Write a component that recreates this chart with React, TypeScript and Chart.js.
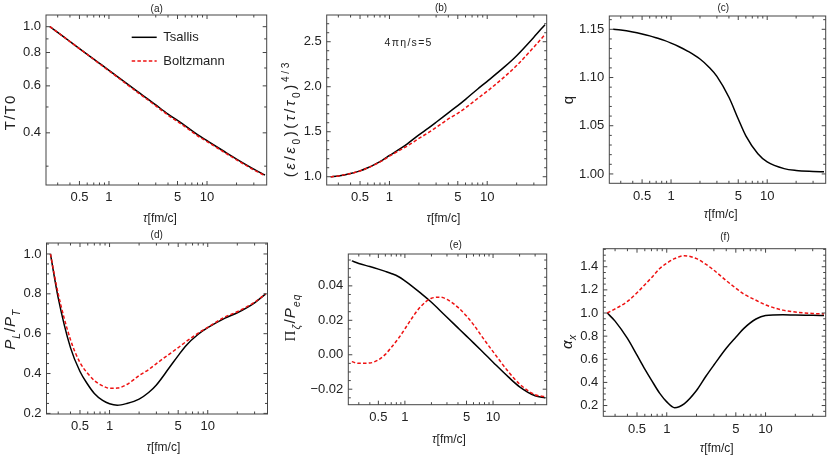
import { useEffect, useRef } from 'react'
import { Chart, registerables } from 'chart.js'
import type { Plugin } from 'chart.js'

Chart.register(...registerables)

const FONT = '"Liberation Sans", Arial, sans-serif'
const SERIF = '"Liberation Serif", "DejaVu Serif", serif'
const RED = '#ee1111'
const INK = '#222'
const FRAME = '#444'

// proper time grid, fm/c
const TAU = [0.25, 0.3, 0.4, 0.5, 0.6, 0.7, 0.85, 1, 1.2, 1.5, 2, 2.5, 3, 4, 5, 6, 8, 10, 15, 20, 30, 39]

// (a) T/T0
const T_TSALLIS = [1.0, 0.952, 0.88, 0.828, 0.788, 0.756, 0.717, 0.686, 0.653, 0.614, 0.568, 0.535, 0.509, 0.4705, 0.445, 0.425, 0.394, 0.374, 0.3405, 0.319, 0.2925, 0.278]
const T_BOLTZ = [1.0, 0.952, 0.879, 0.827, 0.787, 0.754, 0.714, 0.683, 0.65, 0.61, 0.564, 0.531, 0.505, 0.466, 0.441, 0.421, 0.39, 0.371, 0.338, 0.317, 0.2905, 0.2765]

// (b) (e/e0)(tau/tau0)^(4/3)
const E_TSALLIS = [1.0, 1.009, 1.036, 1.065, 1.1, 1.135, 1.185, 1.236, 1.29, 1.36, 1.465, 1.54, 1.605, 1.71, 1.79, 1.86, 1.975, 2.06, 2.22, 2.345, 2.55, 2.69]
const E_BOLTZ = [1.0, 1.009, 1.036, 1.064, 1.098, 1.132, 1.18, 1.228, 1.278, 1.338, 1.425, 1.49, 1.547, 1.642, 1.705, 1.765, 1.87, 1.95, 2.11, 2.235, 2.44, 2.58]

// (c) q
const Q_TSALLIS = [1.15, 1.1493, 1.1473, 1.1452, 1.1432, 1.1412, 1.1385, 1.1357, 1.1322, 1.1272, 1.1192, 1.1105, 1.1012, 1.0795, 1.057, 1.0395, 1.021, 1.0125, 1.0055, 1.0036, 1.0026, 1.0022]

// (d) P_L/P_T
const P_TSALLIS = [1.0, 0.78, 0.53, 0.41, 0.345, 0.3, 0.265, 0.248, 0.241, 0.25, 0.272, 0.305, 0.343, 0.425, 0.49, 0.54, 0.597, 0.63, 0.678, 0.705, 0.755, 0.8]
const P_BOLTZ = [1.0, 0.8, 0.57, 0.455, 0.4, 0.365, 0.338, 0.326, 0.327, 0.345, 0.39, 0.42, 0.45, 0.495, 0.53, 0.56, 0.603, 0.632, 0.684, 0.71, 0.758, 0.8]

// (e) Pi_zeta/P_eq
const PI_TSALLIS = [0.0545, 0.053, 0.0512, 0.0497, 0.0484, 0.0472, 0.0453, 0.0429, 0.0399, 0.0359, 0.0305, 0.0257, 0.0218, 0.0156, 0.0108, 0.0069, 0.0006, -0.0043, -0.013, -0.0186, -0.0238, -0.0249]
const PI_BOLTZ = [-0.004, -0.005, -0.0048, -0.003, 0.0002, 0.0042, 0.0097, 0.015, 0.0212, 0.0278, 0.0328, 0.0334, 0.0322, 0.0275, 0.0225, 0.0175, 0.0085, 0.0018, -0.01, -0.017, -0.0232, -0.0244]

// (f) alpha_x
const A_TSALLIS = [1.0, 0.93, 0.78, 0.635, 0.515, 0.42, 0.305, 0.232, 0.182, 0.215, 0.33, 0.455, 0.55, 0.695, 0.79, 0.865, 0.948, 0.978, 0.985, 0.982, 0.98, 0.978]
const A_BOLTZ = [1.0, 1.035, 1.1, 1.175, 1.245, 1.305, 1.385, 1.43, 1.47, 1.495, 1.47, 1.42, 1.37, 1.28, 1.215, 1.165, 1.11, 1.07, 1.025, 1.008, 0.996, 0.992]

const X_MAJOR = [0.5, 1, 5, 10]
const X_MINOR = [0.3, 0.4, 0.6, 0.7, 0.8, 0.9, 2, 3, 4, 6, 7, 8, 9, 20, 30]

const A_Y_MAJOR = [0.4, 0.6, 0.8, 1.0]
const A_Y_MINOR = [0.3, 0.5, 0.7, 0.9]
const B_Y_MAJOR = [1.0, 1.5, 2.0, 2.5]
const B_Y_MINOR = [1.1, 1.2, 1.3, 1.4, 1.6, 1.7, 1.8, 1.9, 2.1, 2.2, 2.3, 2.4, 2.6, 2.7]
const C_Y_MAJOR = [1.0, 1.05, 1.1, 1.15]
const C_Y_MINOR = [1.01, 1.02, 1.03, 1.04, 1.06, 1.07, 1.08, 1.09, 1.11, 1.12, 1.13, 1.14, 1.16]
const D_Y_MAJOR = [0.2, 0.4, 0.6, 0.8, 1.0]
const D_Y_MINOR = [0.25, 0.3, 0.35, 0.45, 0.5, 0.55, 0.65, 0.7, 0.75, 0.85, 0.9, 0.95, 1.05]
const E_Y_MAJOR = [-0.02, 0, 0.02, 0.04]
const E_Y_MINOR = [-0.025, -0.015, -0.01, -0.005, 0.005, 0.01, 0.015, 0.025, 0.03, 0.035, 0.045, 0.05, 0.055]
const F_Y_MAJOR = [0.2, 0.4, 0.6, 0.8, 1.0, 1.2, 1.4]
const F_Y_MINOR = [0.15, 0.25, 0.3, 0.35, 0.45, 0.5, 0.55, 0.65, 0.7, 0.75, 0.85, 0.9, 0.95, 1.05, 1.1, 1.15, 1.25, 1.3, 1.35, 1.45, 1.5, 1.55]

const X_MIN = 0.228
const X_MAX = 40.6

type Seg = { t: string; i?: boolean; s?: 'sub' | 'sup'; serif?: boolean }

type Panel = {
  name: string
  cell: { x: number; y: number; w: number; h: number }
  area: { l: number; t: number; r: number; b: number }
  log?: boolean
  yMin: number
  yMax: number
  yMajor: number[]
  yMinor: number[]
  digits: number
  tsallis: number[]
  boltzmann?: number[]
  yTitle: Seg[]
  yTitleAt: [number, number]
  ySpacing: number
  xTitleAt: [number, number]
  nameAt: [number, number]
  legend?: boolean
  note?: [string, number, number]
}

const TAU_TITLE: Seg[] = [{ t: 'τ', i: true }, { t: '[fm/c]' }]

const PANELS: Panel[] = [
  {
    name: '(a)', cell: { x: 0, y: 0, w: 278, h: 229 }, area: { l: 46, t: 15, r: 266.7, b: 185 },
    log: true, yMin: 0.255, yMax: 1.106, yMajor: A_Y_MAJOR, yMinor: A_Y_MINOR, digits: 1,
    tsallis: T_TSALLIS, boltzmann: T_BOLTZ,
    yTitle: [{ t: 'T/T0' }], yTitleAt: [10, 113], ySpacing: 1.2,
    xTitleAt: [160, 218], nameAt: [156.7, 9], legend: true,
  },
  {
    name: '(b)', cell: { x: 278, y: 0, w: 278, h: 229 }, area: { l: 326.7, t: 15, r: 546.7, b: 185 },
    yMin: 0.908, yMax: 2.797, yMajor: B_Y_MAJOR, yMinor: B_Y_MINOR, digits: 1,
    tsallis: E_TSALLIS, boltzmann: E_BOLTZ,
    yTitle: [
      { t: '(' }, { t: 'ε', i: true }, { t: '/' }, { t: 'ε', i: true }, { t: '0', s: 'sub' }, { t: ')(' },
      { t: 'τ', i: true }, { t: '/' }, { t: 'τ', i: true }, { t: '0', s: 'sub' }, { t: ')' }, { t: '4/3', s: 'sup' },
    ],
    yTitleAt: [290, 120], ySpacing: 2.6,
    xTitleAt: [443.3, 218], nameAt: [441, 8], note: ['4πη/s=5', 408, 42.7],
  },
  {
    name: '(c)', cell: { x: 556, y: 0, w: 274, h: 229 }, area: { l: 609.3, t: 16, r: 825.7, b: 183.3 },
    yMin: 0.9903, yMax: 1.1638, yMajor: C_Y_MAJOR, yMinor: C_Y_MINOR, digits: 2,
    tsallis: Q_TSALLIS,
    yTitle: [{ t: 'q' }], yTitleAt: [567.7, 100], ySpacing: 0,
    xTitleAt: [720.7, 213.3], nameAt: [723.3, 8],
  },
  {
    name: '(d)', cell: { x: 0, y: 229, w: 278, h: 229 }, area: { l: 46.5, t: 243, r: 267.5, b: 414 },
    yMin: 0.197, yMax: 1.055, yMajor: D_Y_MAJOR, yMinor: D_Y_MINOR, digits: 1,
    tsallis: P_TSALLIS, boltzmann: P_BOLTZ,
    yTitle: [{ t: 'P', i: true }, { t: 'L', i: true, s: 'sub' }, { t: '/' }, { t: 'P', i: true }, { t: 'T', i: true, s: 'sub' }],
    yTitleAt: [10, 329.7], ySpacing: 1,
    xTitleAt: [163.3, 446.3], nameAt: [156.7, 235],
  },
  {
    name: '(e)', cell: { x: 278, y: 229, w: 278, h: 229 }, area: { l: 348.3, t: 254, r: 546.7, b: 404.7 },
    yMin: -0.029, yMax: 0.0585, yMajor: E_Y_MAJOR, yMinor: E_Y_MINOR, digits: 2,
    tsallis: PI_TSALLIS, boltzmann: PI_BOLTZ,
    yTitle: [{ t: 'Π', serif: true }, { t: 'ζ', i: true, s: 'sub' }, { t: '/' }, { t: 'P', i: true }, { t: 'eq', i: true, s: 'sub' }],
    yTitleAt: [290, 318], ySpacing: 1.2,
    xTitleAt: [449, 438.3], nameAt: [455.7, 245.3],
  },
  {
    name: '(f)', cell: { x: 556, y: 229, w: 274, h: 229 }, area: { l: 603.3, t: 248.7, r: 825.7, b: 416.3 },
    yMin: 0.107, yMax: 1.556, yMajor: F_Y_MAJOR, yMinor: F_Y_MINOR, digits: 1,
    tsallis: A_TSALLIS, boltzmann: A_BOLTZ,
    yTitle: [{ t: 'α', i: true }, { t: 'x', i: true, s: 'sub' }],
    yTitleAt: [566.7, 342], ySpacing: 0.5,
    xTitleAt: [716.7, 448], nameAt: [725, 237.3],
  },
]

function segFont(s: Seg, size: number) {
  const sz = s.s ? size * 0.68 : size
  return `${s.i ? 'italic ' : ''}${sz}px ${s.serif ? SERIF : FONT}`
}

// draws a small formula centred on (cx, cy), optionally turned upright
function drawRich(ctx: CanvasRenderingContext2D, segs: Seg[], size: number, cx: number, cy: number, turn: boolean, spacing = 0) {
  const chars = segs.flatMap(s => Array.from(s.t).map(c => ({ ...s, t: c })))
  const widths = chars.map(s => {
    ctx.font = segFont(s, size)
    return ctx.measureText(s.t).width
  })
  const total = widths.reduce((a, b) => a + b, 0) + spacing * (chars.length - 1)
  ctx.save()
  ctx.translate(cx, cy)
  if (turn) ctx.rotate(-Math.PI / 2)
  ctx.fillStyle = INK
  ctx.textAlign = 'left'
  ctx.textBaseline = 'alphabetic'
  let x = -total / 2
  chars.forEach((s, i) => {
    ctx.font = segFont(s, size)
    const dy = s.s === 'sub' ? size * 0.28 : s.s === 'sup' ? -size * 0.42 : 0
    ctx.fillText(s.t, x, size * 0.36 + dy)
    x += widths[i] + spacing
  })
  ctx.restore()
}

function decor(p: Panel): Plugin<'line'> {
  return {
    id: 'decor',
    afterDraw(chart) {
      const { ctx, chartArea: a } = chart
      const xs = chart.scales.x
      const ys = chart.scales.y
      ctx.save()
      ctx.strokeStyle = FRAME
      ctx.lineWidth = 1
      ctx.strokeRect(a.left, a.top, a.right - a.left, a.bottom - a.top)
      ctx.beginPath()
      const xt: [number, number][] = [...X_MAJOR.map(v => [v, 4] as [number, number]), ...X_MINOR.map(v => [v, 2.5] as [number, number])]
      for (const [v, len] of xt) {
        const px = xs.getPixelForValue(v)
        ctx.moveTo(px, a.bottom); ctx.lineTo(px, a.bottom - len)
        ctx.moveTo(px, a.top); ctx.lineTo(px, a.top + len)
      }
      const yt: [number, number][] = [...p.yMajor.map(v => [v, 4] as [number, number]), ...p.yMinor.map(v => [v, 2.5] as [number, number])]
      for (const [v, len] of yt) {
        if (v < p.yMin || v > p.yMax) continue
        const py = ys.getPixelForValue(v)
        ctx.moveTo(a.left, py); ctx.lineTo(a.left + len, py)
        ctx.moveTo(a.right, py); ctx.lineTo(a.right - len, py)
      }
      ctx.stroke()

      ctx.translate(-p.cell.x, -p.cell.y)
      ctx.fillStyle = INK
      ctx.font = `10px ${FONT}`
      ctx.textAlign = 'center'
      ctx.textBaseline = 'middle'
      ctx.fillText(p.name, p.nameAt[0], p.nameAt[1])

      drawRich(ctx, p.yTitle, 15, p.yTitleAt[0], p.yTitleAt[1], true, p.ySpacing)
      drawRich(ctx, TAU_TITLE, 12, p.xTitleAt[0], p.xTitleAt[1], false)

      if (p.note) {
        drawRich(ctx, [{ t: p.note[0] }], 10.5, p.note[1], p.note[2], false, 1.3)
      }

      if (p.legend) {
        const rows = [
          { label: 'Tsallis', color: '#000', dash: [] as number[], y: 37.3 },
          { label: 'Boltzmann', color: RED, dash: [3.5, 2.2], y: 61 },
        ]
        for (const r of rows) {
          ctx.beginPath()
          ctx.strokeStyle = r.color
          ctx.lineWidth = 1.5
          ctx.setLineDash(r.dash)
          ctx.moveTo(131.7, r.y)
          ctx.lineTo(156.7, r.y)
          ctx.stroke()
          ctx.setLineDash([])
          ctx.fillStyle = INK
          ctx.font = `13px ${FONT}`
          ctx.textAlign = 'left'
          ctx.textBaseline = 'middle'
          ctx.fillText(r.label, 163.3, r.y)
        }
      }
      ctx.restore()
    },
  }
}

function fmt(v: number, digits: number) {
  return v.toFixed(digits).replace('-', '−')
}

function PanelChart({ p }: { p: Panel }) {
  const ref = useRef<HTMLCanvasElement>(null)

  useEffect(() => {
    if (!ref.current) return
    const datasets: any[] = []
    if (p.boltzmann) {
      datasets.push({
        label: 'Boltzmann',
        data: TAU.map((t, i) => ({ x: t, y: p.boltzmann![i] })),
        borderColor: RED,
        borderWidth: 1.5,
        borderDash: [3.5, 2.2],
        order: 0,
      })
    }
    datasets.push({
      label: 'Tsallis',
      data: TAU.map((t, i) => ({ x: t, y: p.tsallis[i] })),
      borderColor: '#000',
      borderWidth: 1.5,
      order: 1,
    })
    const yTicks = [...p.yMajor, ...p.yMinor].filter(v => v >= p.yMin && v <= p.yMax).sort((a, b) => a - b)
    const xTicks = [...X_MAJOR, ...X_MINOR].sort((a, b) => a - b)
    const tickFont = { family: FONT, size: 13 }

    const chart = new Chart(ref.current, {
      type: 'line',
      data: { datasets },
      options: {
        animation: false,
        responsive: false,
        layout: {
          padding: {
            left: 0,
            bottom: 0,
            top: p.area.t - p.cell.y,
            right: p.cell.x + p.cell.w - p.area.r,
          },
        },
        elements: {
          point: { radius: 0 },
          line: { cubicInterpolationMode: 'monotone', fill: false },
        },
        plugins: {
          legend: { display: false },
          title: { display: false },
          tooltip: { enabled: false },
        },
        scales: {
          x: {
            type: 'logarithmic',
            min: X_MIN,
            max: X_MAX,
            bounds: 'data',
            grid: { display: false, drawTicks: false },
            border: { display: false },
            ticks: {
              autoSkip: false,
              maxRotation: 0,
              padding: 5,
              color: INK,
              font: tickFont,
              callback: v => (X_MAJOR.includes(Number(v)) ? String(v) : ''),
            },
            afterBuildTicks: s => { s.ticks = xTicks.map(v => ({ value: v })) },
            afterFit: s => { s.height = p.cell.y + p.cell.h - p.area.b },
          },
          y: {
            type: p.log ? 'logarithmic' : 'linear',
            min: p.yMin,
            max: p.yMax,
            bounds: 'data',
            grid: { display: false, drawTicks: false },
            border: { display: false },
            ticks: {
              autoSkip: false,
              padding: 5,
              color: INK,
              font: tickFont,
              callback: v => (p.yMajor.includes(Number(v)) ? fmt(Number(v), p.digits) : ''),
            },
            afterBuildTicks: s => { s.ticks = yTicks.map(v => ({ value: v })) },
            afterFit: s => { s.width = p.area.l - p.cell.x },
          },
        },
      },
      plugins: [decor(p)],
    })
    return () => { chart.destroy() }
  }, [p])

  return (
    <canvas
      ref={ref}
      width={p.cell.w}
      height={p.cell.h}
      style={{ position: 'absolute', left: p.cell.x, top: p.cell.y, width: p.cell.w, height: p.cell.h }}
    />
  )
}

export default function App() {
  return (
    <div style={{ position: 'absolute', left: 0, top: 0, width: 830, height: 458, background: '#fff', overflow: 'hidden' }}>
      {PANELS.map(p => <PanelChart key={p.name} p={p} />)}
    </div>
  )
}
